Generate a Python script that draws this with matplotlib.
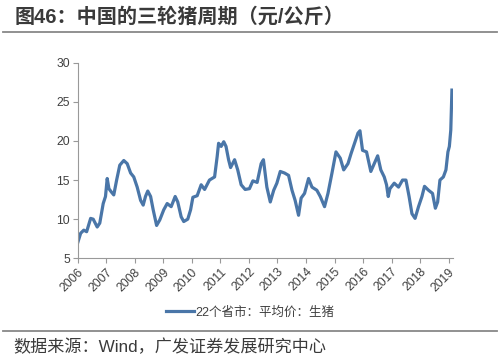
import matplotlib
matplotlib.use("Agg")
import matplotlib.pyplot as plt
from matplotlib.lines import Line2D

plt.rcParams['font.family'] = ['Liberation Sans', 'Noto Sans CJK SC', 'DejaVu Sans']

# 22个省市平均价：生猪（元/公斤）
years = [2006.00, 2006.11, 2006.22, 2006.32, 2006.46, 2006.55, 2006.69, 2006.78,
         2006.90, 2006.98, 2007.04, 2007.10, 2007.18, 2007.27, 2007.37, 2007.48,
         2007.62, 2007.74, 2007.86, 2007.97, 2008.09, 2008.21, 2008.30, 2008.38,
         2008.46, 2008.56, 2008.65, 2008.77, 2008.88, 2009.02, 2009.14, 2009.28,
         2009.42, 2009.51, 2009.63, 2009.72, 2009.86, 2009.96, 2010.04, 2010.19,
         2010.33, 2010.45, 2010.62, 2010.80, 2010.89, 2010.94, 2011.03, 2011.12,
         2011.20, 2011.29, 2011.36, 2011.50, 2011.61, 2011.73, 2011.87, 2012.02,
         2012.14, 2012.29, 2012.43, 2012.51, 2012.63, 2012.75, 2012.87, 2012.98,
         2013.10, 2013.25, 2013.39, 2013.51, 2013.62, 2013.74, 2013.83, 2013.95,
         2014.09, 2014.21, 2014.38, 2014.50, 2014.65, 2014.77, 2014.91, 2015.05,
         2015.20, 2015.32, 2015.47, 2015.58, 2015.70, 2015.82, 2015.89, 2015.98,
         2016.12, 2016.27, 2016.39, 2016.51, 2016.62, 2016.74, 2016.82, 2016.88,
         2016.94, 2017.09, 2017.24, 2017.38, 2017.50, 2017.61, 2017.71, 2017.82,
         2017.94, 2018.06, 2018.15, 2018.29, 2018.43, 2018.53, 2018.61, 2018.69,
         2018.81, 2018.90, 2018.97, 2019.02, 2019.07, 2019.11]
price = [6.9, 8.2, 8.6, 8.4, 10.1, 10.0, 9.0, 9.5,
         12.0, 12.9, 15.2, 13.9, 13.5, 13.1, 15.0, 16.9,
         17.5, 17.1, 15.9, 15.4, 14.1, 12.4, 11.8, 12.9,
         13.6, 12.9, 11.2, 9.2, 9.9, 11.2, 12.0, 11.6,
         12.9, 12.2, 10.3, 9.7, 10.0, 11.2, 12.8, 13.0,
         14.4, 13.8, 15.0, 15.4, 18.0, 19.7, 19.3, 19.9,
         19.3, 17.6, 16.6, 17.6, 16.3, 14.4, 13.8, 13.9,
         14.9, 14.7, 17.1, 17.6, 14.1, 12.2, 13.7, 14.6,
         16.1, 15.9, 15.6, 13.7, 12.4, 10.5, 12.7, 13.3,
         15.2, 14.1, 13.7, 12.9, 11.6, 13.3, 15.9, 18.6,
         17.8, 16.3, 17.1, 18.4, 19.7, 21.0, 21.3, 18.8,
         18.6, 16.1, 17.1, 18.1, 16.3, 15.4, 14.4, 12.9,
         13.9, 14.6, 14.1, 15.0, 15.0, 12.9, 10.7, 10.1,
         11.6, 12.9, 14.2, 13.7, 13.3, 11.4, 12.2, 15.0,
         15.4, 16.3, 18.6, 19.3, 21.4, 26.5]
year_ticks = list(range(2006, 2020))
y_ticks = [5, 10, 15, 20, 25, 30]

line_color = '#4a76a8'
text_color = '#404040'

fig = plt.figure(figsize=(5.0, 3.59), dpi=100)
ax = fig.add_axes([0.155, 0.2805, 0.75, 0.5448])

ax.plot(years, price, color=line_color, linewidth=2.3, solid_joinstyle='round')

ax.set_xlim(2006, 2019.13)
ax.set_ylim(5, 30)
ax.set_xticks(year_ticks)
ax.set_xticklabels([str(y) for y in year_ticks], rotation=45, ha='right',
                   rotation_mode='anchor', fontsize=8.7, color=text_color)
ax.set_yticks(y_ticks)
ax.set_yticklabels([str(v) for v in y_ticks], fontsize=8.7, color=text_color)
ax.tick_params(axis='both', direction='out', length=3.5, width=0.8, color='#999999', pad=2)
for side in ['top', 'right']:
    ax.spines[side].set_visible(False)
for side in ['left', 'bottom']:
    ax.spines[side].set_color('#999999')
    ax.spines[side].set_linewidth(0.8)

# 图例
handle = Line2D([0], [0], color=line_color, linewidth=2.3)
fig.legend([handle], ['22个省市：平均价：生猪'], loc='center', bbox_to_anchor=(0.5, 0.129),
           frameon=False, fontsize=9, handlelength=2.2, handletextpad=0.1,
           labelcolor=text_color)

# 标题与来源
fig.text(0.03, 0.953, '图46：中国的三轮猪周期（元/公斤）', fontsize=14.5, fontweight='semibold',
         color='#3a3a3a', va='center', ha='left')
fig.add_artist(Line2D([0.006, 0.994], [0.911, 0.911], color='#888888', linewidth=1.3))
fig.add_artist(Line2D([0.006, 0.994], [0.079, 0.079], color='#888888', linewidth=1.3))
fig.text(0.026, 0.034, '数据来源：Wind，广发证券发展研究中心', fontsize=12.3,
         color='#3a3a3a', va='center', ha='left')

fig.savefig('out.png', dpi=100)
